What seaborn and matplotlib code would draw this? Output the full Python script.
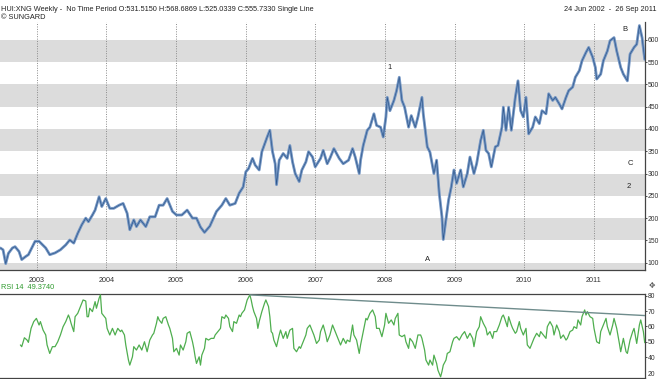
import numpy as np
import pandas as pd
import matplotlib
matplotlib.use("Agg")
import matplotlib.pyplot as plt
import matplotlib.dates as mdates
import seaborn as sns

# weekly bars, week index counted from 24 Jun 2002
price_weeks = [0, 2, 4, 6, 9, 11, 14, 16, 19, 21, 24, 26, 29, 31, 34, 37, 41, 45, 49, 52,
               55, 58, 61, 64, 66, 69, 71, 74, 76, 79, 82, 85, 89, 92, 95, 97, 100, 102, 105, 109,
               112, 116, 119, 122, 125, 129, 132, 136, 140, 144, 147, 150, 153, 157, 162, 166, 169, 172, 176, 179,
               182, 184, 186, 189, 191, 194, 196, 199, 200, 202, 204, 206, 207, 209, 212, 215, 217, 219, 221, 224,
               226, 229, 231, 234, 236, 240, 242, 245, 247, 250, 254, 257, 261, 264, 266, 269, 270, 272, 275, 277,
               280, 282, 285, 287, 289, 290, 292, 295, 297, 299, 301, 303, 306, 308, 311, 313, 316, 317, 320, 322,
               325, 327, 329, 331, 332, 334, 336, 338, 340, 342, 345, 347, 350, 352, 355, 357, 360, 362, 364, 366,
               368, 371, 373, 376, 377, 379, 381, 383, 386, 388, 390, 392, 394, 396, 399, 401, 404, 406, 409, 411,
               414, 416, 419, 421, 424, 426, 429, 431, 434, 436, 439, 441, 444, 446, 447, 450, 452, 455, 457, 460,
               462, 465, 467, 470, 472, 475, 477, 479, 481, 483]
price_values = [133, 129, 98, 121, 133, 136, 125, 107, 114, 118, 136, 148, 148, 142, 133, 118, 122, 129, 140, 151,
                144, 166, 185, 200, 192, 207, 218, 248, 226, 244, 222, 222, 229, 233, 211, 174, 196, 181, 196, 181,
                203, 203, 229, 229, 244, 215, 207, 207, 218, 200, 200, 180, 168, 182, 215, 229, 244, 229, 233, 256,
                270, 304, 311, 334, 319, 308, 349, 374, 382, 397, 349, 322, 275, 330, 345, 334, 363, 326, 300, 282,
                308, 326, 349, 337, 315, 334, 352, 322, 334, 356, 334, 322, 330, 356, 337, 300, 330, 363, 397, 404,
                434, 408, 404, 382, 427, 471, 441, 464, 486, 516, 464, 449, 404, 430, 404, 427, 471, 434, 360, 348,
                300, 330, 255, 203, 152, 196, 241, 270, 308, 278, 308, 270, 300, 337, 300, 322, 374, 397, 352, 345,
                315, 360, 363, 404, 449, 397, 449, 397, 471, 508, 441, 427, 471, 389, 404, 427, 412, 441, 434, 479,
                464, 471, 456, 445, 471, 486, 494, 516, 531, 553, 572, 583, 561, 538, 512, 523, 553, 575, 598, 605,
                575, 538, 523, 508, 568, 583, 590, 632, 605, 556]

rsi_weeks = [15, 16, 18, 20, 21, 23, 25, 27, 29, 30, 32, 34, 35, 37, 39, 41, 43, 45, 47, 49,
             51, 52, 53, 55, 56, 58, 60, 61, 62, 64, 65, 66, 67, 69, 71, 72, 74, 75, 76, 78,
             79, 80, 82, 84, 86, 88, 90, 91, 93, 94, 96, 97, 99, 100, 102, 104, 106, 108, 110, 112,
             114, 115, 117, 118, 119, 121, 122, 124, 126, 127, 129, 130, 132, 134, 135, 137, 139, 140, 142, 144,
             145, 146, 147, 149, 150, 151, 153, 154, 156, 158, 160, 161, 163, 165, 166, 168, 169, 171, 172, 174,
             175, 177, 179, 180, 181, 183, 184, 185, 187, 188, 189, 190, 192, 193, 194, 196, 198, 199, 201, 202,
             203, 204, 205, 207, 209, 210, 212, 214, 215, 217, 219, 220, 222, 224, 225, 227, 229, 230, 232, 234,
             235, 237, 239, 240, 242, 244, 245, 247, 249, 251, 253, 255, 257, 259, 260, 262, 264, 265, 267, 269,
             270, 272, 274, 275, 277, 279, 281, 282, 284, 286, 288, 289, 291, 293, 295, 296, 298, 299, 301, 303,
             304, 306, 307, 309, 311, 313, 315, 316, 318, 319, 321, 322, 324, 325, 327, 328, 330, 331, 332, 334,
             335, 337, 339, 340, 342, 344, 346, 348, 350, 352, 354, 355, 357, 359, 360, 362, 364, 365, 367, 369,
             370, 372, 374, 376, 377, 378, 380, 381, 383, 384, 386, 387, 389, 390, 392, 394, 395, 397, 399, 400,
             402, 404, 405, 407, 409, 410, 412, 414, 415, 417, 419, 420, 422, 424, 425, 427, 429, 430, 432, 433,
             435, 436, 438, 439, 440, 442, 444, 445, 447, 449, 450, 452, 454, 455, 457, 459, 460, 462, 464, 465,
             467, 469, 470, 472, 474, 475, 477, 479, 480, 482, 483]
rsi_values = [47.9, 46.8, 52.6, 51.1, 49.6, 58.7, 63.1, 65.2, 60.9, 63.1, 57.6, 54.4, 47.9, 42.4, 46.8, 46.8, 50.0, 54.4, 59.8, 63.1,
              67.4, 65.2, 62.0, 56.6, 66.3, 68.5, 72.9, 75.0, 77.2, 76.5, 66.3, 66.3, 71.8, 69.6, 76.1, 71.8, 78.3, 80.5, 68.5, 66.3,
              65.2, 58.7, 54.4, 58.7, 54.4, 58.7, 56.6, 57.6, 54.4, 47.9, 38.1, 34.8, 40.2, 46.8, 44.6, 47.9, 44.6, 50.0, 43.5, 51.1,
              54.4, 55.5, 62.0, 66.3, 64.2, 62.0, 65.2, 66.3, 60.9, 58.7, 52.2, 43.5, 45.7, 41.3, 47.9, 44.6, 50.0, 55.5, 56.6, 50.0,
              45.7, 40.2, 35.9, 40.2, 34.8, 41.3, 45.7, 52.2, 51.1, 52.2, 52.2, 54.4, 56.6, 58.7, 66.3, 65.2, 67.4, 65.2, 59.8, 56.6,
              63.1, 62.0, 67.4, 66.3, 68.5, 70.7, 73.9, 77.2, 80.5, 77.2, 72.9, 69.6, 65.2, 58.7, 63.1, 69.6, 75.0, 77.2, 72.9, 66.3,
              56.6, 55.5, 51.1, 46.8, 54.4, 57.6, 52.2, 56.6, 52.2, 57.6, 58.7, 45.7, 43.5, 46.8, 45.7, 50.0, 54.4, 58.7, 60.9, 56.6,
              54.4, 48.9, 51.1, 56.6, 60.9, 54.4, 50.0, 54.4, 60.9, 56.6, 52.2, 47.9, 52.2, 48.9, 51.1, 50.0, 60.9, 54.4, 51.1, 42.4,
              47.9, 56.6, 65.2, 64.2, 68.5, 70.7, 66.3, 58.7, 58.7, 53.3, 60.9, 68.5, 62.0, 64.2, 60.9, 65.2, 68.5, 54.4, 53.3, 54.4,
              50.0, 45.7, 52.2, 50.0, 45.7, 54.4, 54.4, 52.2, 44.6, 38.1, 34.8, 38.1, 34.8, 41.3, 35.9, 31.5, 27.2, 30.5, 34.8, 38.1,
              42.4, 43.5, 50.0, 52.2, 53.3, 51.1, 54.4, 56.6, 52.2, 55.5, 52.2, 46.8, 56.6, 59.8, 66.3, 62.0, 58.7, 54.4, 56.6, 52.2,
              56.6, 56.6, 60.9, 66.3, 67.4, 65.2, 59.8, 66.3, 60.9, 58.7, 55.5, 56.6, 63.1, 58.7, 54.4, 58.7, 47.9, 45.7, 50.0, 52.2,
              55.5, 53.3, 56.6, 54.4, 52.2, 59.8, 63.1, 59.8, 54.4, 60.9, 56.6, 52.2, 54.4, 51.1, 52.2, 56.6, 57.6, 59.8, 58.7, 64.2,
              60.9, 66.3, 70.7, 67.4, 69.6, 66.3, 65.2, 58.7, 50.0, 48.9, 56.6, 60.9, 65.2, 59.8, 54.4, 60.9, 65.2, 58.7, 48.9, 43.5,
              52.2, 43.5, 42.4, 51.1, 56.6, 58.7, 48.9, 60.9, 64.2, 56.6, 49.4]

trend_weeks = [187, 484]
trend_values = [80.5, 67.0]

price_ticks = [100, 150, 200, 250, 300, 350, 400, 450, 500, 550, 600]
rsi_ticks = [40, 50, 60, 70, 80]

wave_labels = ["1", "A", "B", "C", "2"]
wave_weeks = [292, 320, 468, 472, 471]
wave_prices = [537, 107, 624, 323, 270]

start = pd.Timestamp("2002-06-24")


def to_dates(weeks):
    return start + pd.to_timedelta(np.asarray(weeks) * 7, unit="D")


sns.set_style("white")
plt.rcParams["font.family"] = ["Liberation Sans", "DejaVu Sans"]

fig = plt.figure(figsize=(6.6, 3.79), dpi=100)
ax = fig.add_axes([0, 0.288, 0.978, 0.654])
ax_rsi = fig.add_axes([0, 0.003, 0.978, 0.221])

xmin, xmax = pd.Timestamp("2002-06-22"), pd.Timestamp("2011-09-30")
tick_fs = 4.9

# price panel: grey bands + dotted year lines
for lo in range(50, 600, 100):
    ax.axhspan(lo, lo + 50, color="#dcdcdc", lw=0, zorder=0)
for yr in range(2003, 2012):
    ax.axvline(pd.Timestamp(f"{yr}-01-01"), color="#8a8a8a", ls=(0, (1, 1.5)), lw=0.7, zorder=1)

df_price = pd.DataFrame({"date": to_dates(price_weeks), "price": price_values})
sns.lineplot(data=df_price, x="date", y="price", ax=ax, color="#7395c3", lw=2.0, estimator=None, zorder=3)
sns.lineplot(data=df_price, x="date", y="price", ax=ax, color="#2b5488", lw=0.45, estimator=None, zorder=4)

for lab, w, p in zip(wave_labels, wave_weeks, wave_prices):
    ax.text(to_dates([w])[0], p, lab, fontsize=5.5, ha="center", va="center", color="#222222", zorder=5)

ax.set_xlim(xmin, xmax)
ax.set_ylim(84, 640)
ax.yaxis.tick_right()
ax.set_yticks(price_ticks)
ax.xaxis.set_major_locator(mdates.YearLocator())
ax.xaxis.set_major_formatter(mdates.DateFormatter("%Y"))
ax.tick_params(axis="y", labelsize=tick_fs, length=1.2, pad=0.5, colors="#333333", width=0.6)
ax.tick_params(axis="x", labelsize=tick_fs + 0.3, length=3, pad=2, colors="#333333", width=0.6)
ax.set_xlabel("")
ax.set_ylabel("")
for s in ["top", "left"]:
    ax.spines[s].set_visible(False)
for s in ["right", "bottom"]:
    ax.spines[s].set_color("#444444")
    ax.spines[s].set_linewidth(0.9)

# RSI panel
df_rsi = pd.DataFrame({"date": to_dates(rsi_weeks), "rsi": rsi_values})
sns.lineplot(data=df_rsi, x="date", y="rsi", ax=ax_rsi, color="#4fae4f", lw=0.9, estimator=None, zorder=3)
df_trend = pd.DataFrame({"date": to_dates(trend_weeks), "rsi": trend_values})
sns.lineplot(data=df_trend, x="date", y="rsi", ax=ax_rsi, color="#6f8c8c", lw=1.0, estimator=None, zorder=4)

ax_rsi.set_xlim(xmin, xmax)
ax_rsi.set_ylim(26.5, 81)
ax_rsi.yaxis.tick_right()
ax_rsi.set_yticks(rsi_ticks)
ax_rsi.set_xticks([])
ax_rsi.tick_params(axis="y", labelsize=tick_fs, length=1.2, pad=0.5, colors="#333333", width=0.6)
ax_rsi.set_xlabel("")
ax_rsi.set_ylabel("")
ax_rsi.spines["left"].set_visible(False)
for s in ["right", "bottom", "top"]:
    ax_rsi.spines[s].set_color("#444444")
    ax_rsi.spines[s].set_linewidth(0.9)
ax_rsi.text(1.003, 0.0, "20", transform=ax_rsi.transAxes, fontsize=tick_fs, color="#333333",
            ha="left", va="bottom")

# header texts
fig.text(0.002, 0.985, "HUI:XNG Weekly -  No Time Period O:531.5150 H:568.6869 L:525.0339 C:555.7330 Single Line",
         fontsize=5.3, color="#222222", ha="left", va="top")
fig.text(0.002, 0.962, "\u00a9 SUNGARD", fontsize=5.3, color="#222222", ha="left", va="top")
fig.text(0.995, 0.985, "24 Jun 2002  -  26 Sep 2011", fontsize=5.3, color="#222222", ha="right", va="top")
fig.text(0.002, 0.232, "RSI 14  49.3740", fontsize=5.3, color="#2e9a2e", ha="left", va="bottom")
fig.text(0.988, 0.248, "\u2725", fontsize=5.5, color="#555555", ha="center", va="center",
         family=["DejaVu Sans"])

fig.savefig("out.png", dpi=100)
